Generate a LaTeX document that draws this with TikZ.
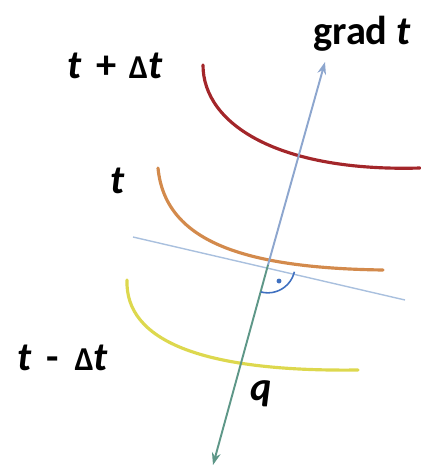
\documentclass[tikz,border=0pt]{standalone}
\usepackage{fontspec}
\setmainfont{Carlito}
\usepackage{tikz}
\usetikzlibrary{arrows.meta,positioning,calc}

\definecolor{levelhi}{HTML}{A3262A}
\definecolor{levelmid}{HTML}{D38A4C}
\definecolor{levello}{HTML}{DDD84E}
\definecolor{gradup}{HTML}{8DA6CE}
\definecolor{graddown}{HTML}{5E9788}
\definecolor{tanline}{HTML}{A9C0DE}
\definecolor{anglemark}{HTML}{3F70C0}

\begin{document}
\begin{tikzpicture}[x=0.02cm, y=-0.02cm,
  lbl/.style={font=\fontsize{23}{27}\selectfont\bfseries, anchor=base west, inner sep=0pt},
  level/.style={line width=1.8pt, line cap=round},
  gradarrow/.style={line width=1.1pt, -{Stealth[length=7pt, width=5pt]}}]
\useasboundingbox (0,0) rectangle (420,467);
% labels
\node[lbl] (grad) at (313,44) {grad \textit{t}};
\node[lbl] (up) at (67,78) {\textit{t}\hspace{3pt} + \hspace{2pt}{\fontsize{19}{22}\selectfont Δ}\textit{t}};
\node[lbl] (mid) at (110,193) {\textit{t}};
\node[lbl] (down) at (17,370) {\textit{t}\hspace{3pt} - \hspace{4pt}{\fontsize{19}{22}\selectfont Δ}\textit{t}};
\node[lbl] (q) at (250,400) {\textit{q}};
% points
\coordinate (p) at (268,265);
\coordinate (top) at (325,62);
\coordinate (bot) at (213,465);
\coordinate (tanL) at (133,237);
\coordinate (tanR) at (405,300);
% tangent line
\draw[tanline, line width=0.8pt] (tanL) -- (tanR);
% level curves
\draw[level, levelhi] (203,65) .. controls (203,125) and (280,172) .. (420,168);
\draw[level, levelmid] (158,168) .. controls (165,240) and (240,268) .. (383,270);
\draw[level, levello] (127,280) .. controls (125,340) and (200,372) .. (358,370);
% gradient
\draw[gradarrow, gradup] (p) -- (top);
\draw[gradarrow, graddown] (p) -- (bot);
% right angle
\draw[anglemark, line width=0.9pt] ($(p)!15.5pt!(tanR)$) arc[start angle=-13, end angle=-105, radius=15.5pt];
\fill[anglemark] (279,281) circle (1.4pt);
\end{tikzpicture}
\end{document}
